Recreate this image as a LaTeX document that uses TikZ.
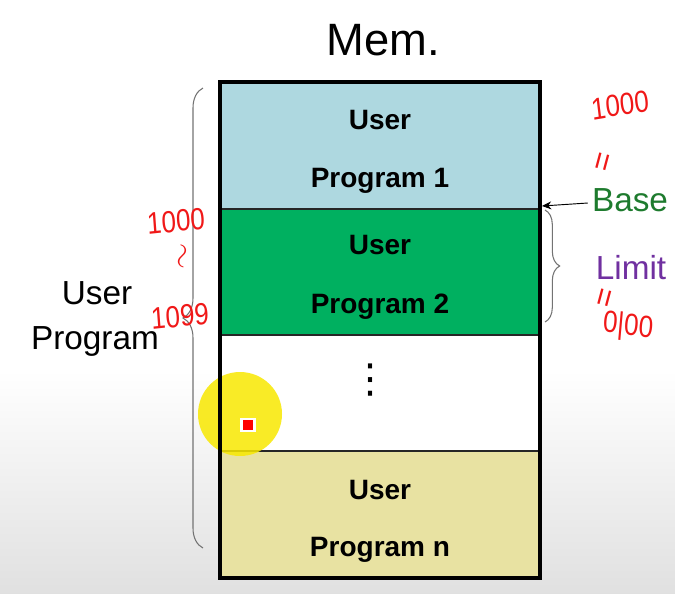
\documentclass[tikz,border=0pt]{standalone}
\usepackage{fontspec}
\setmainfont{Liberation Sans}
\newfontfamily\symfont{DejaVu Sans}
\usetikzlibrary{decorations.pathreplacing,arrows.meta}
\definecolor{blkone}{HTML}{AED8E0}
\definecolor{blktwo}{HTML}{00B060}
\definecolor{blkn}{HTML}{E8E2A2}
\definecolor{basegreen}{HTML}{1E7B2E}
\definecolor{limitpurple}{HTML}{7030A0}
\definecolor{pen}{HTML}{F01818}
\definecolor{hilite}{HTML}{F8E800}
\begin{document}
\begin{tikzpicture}[x=0.75pt,y=-0.75pt,
  prog/.style={font=\fontsize{21}{24}\selectfont\bfseries, inner sep=0pt},
  side/.style={font=\fontsize{25}{30}\selectfont, inner sep=0pt},
  hand/.style={font=\fontsize{23}{26}\selectfont, text=pen, inner sep=0pt, xscale=0.85},
  eqmark/.style={text=pen, inner sep=0pt, rotate=75, font=\fontsize{24}{24}\selectfont},
  bracestyle/.style={draw=black!55, line width=0.8pt, decorate}]
\useasboundingbox (0,0) rectangle (675,593);
\shade[top color=white, bottom color=black!12] (0,370) rectangle (675,593);
% memory blocks
\fill[blkone] (220,82) rectangle (540,209);
\fill[blktwo] (220,209) rectangle (540,335);
\fill[white] (220,335) rectangle (540,451);
\fill[blkn] (220,451) rectangle (540,578);
\draw[line width=1.1pt, black!85] (220,209) -- (540,209) (220,335) -- (540,335) (220,451) -- (540,451);
% pointer highlight
\fill[hilite, opacity=0.85] (240,414) circle (42);
\draw[line width=3pt] (220,82) rectangle (540,578);
\fill[white] (240,418) rectangle (256,432);
\fill[red] (243,420) rectangle (253,430);
% title
\node[font=\fontsize{34}{40}\selectfont, inner sep=0pt] (mem) at (383,40) {Mem.};
% block labels
\node[prog] (u1a) at (380,120) {User};
\node[prog] (u1b) at (380,181) {Program 1};
\node[prog] (u2a) at (380,245) {User};
\node[prog] (u2b) at (380,307) {Program 2};
\node[inner sep=0pt, font=\symfont\fontsize{30}{34}\selectfont] (dots) at (370,380) {⋮};
\node[prog] (una) at (380,490) {User};
\node[prog] (unb) at (380,550) {Program n};
% left side
\node[side] (up1) at (97,293) {User};
\node[side] (up2) at (95,341) {Program};
\draw[bracestyle, decoration={brace, amplitude=15pt}] (203,548) -- (203,88);
% right side
\node[side, text=basegreen] (base) at (630,200) {Base};
\node[side, text=limitpurple] (limit) at (631,268) {Limit};
\coordinate (baseend) at (542,206);
\draw[-{Stealth[length=7pt,width=6pt]}, line width=0.7pt] (base.west) ++(-4,3) -- (baseend);
\draw[bracestyle, decoration={brace, amplitude=11pt}] (545,210) -- (545,322);
% handwritten annotations
\node[hand, rotate=8] (h1) at (620,105) {1000};
\node[eqmark] (h2) at (605,162) {=};
\node[eqmark] (h3) at (607,298) {=};
\node[hand, rotate=-6] (h4) at (628,327) {0|00};
\node[hand, rotate=5] (h5) at (176,221) {1000};
\node[hand, rotate=80, font=\fontsize{40}{40}\selectfont] (h6) at (184,257) {$\sim$};
\node[hand, rotate=5] (h7) at (180,316) {1099};
\end{tikzpicture}
\end{document}
